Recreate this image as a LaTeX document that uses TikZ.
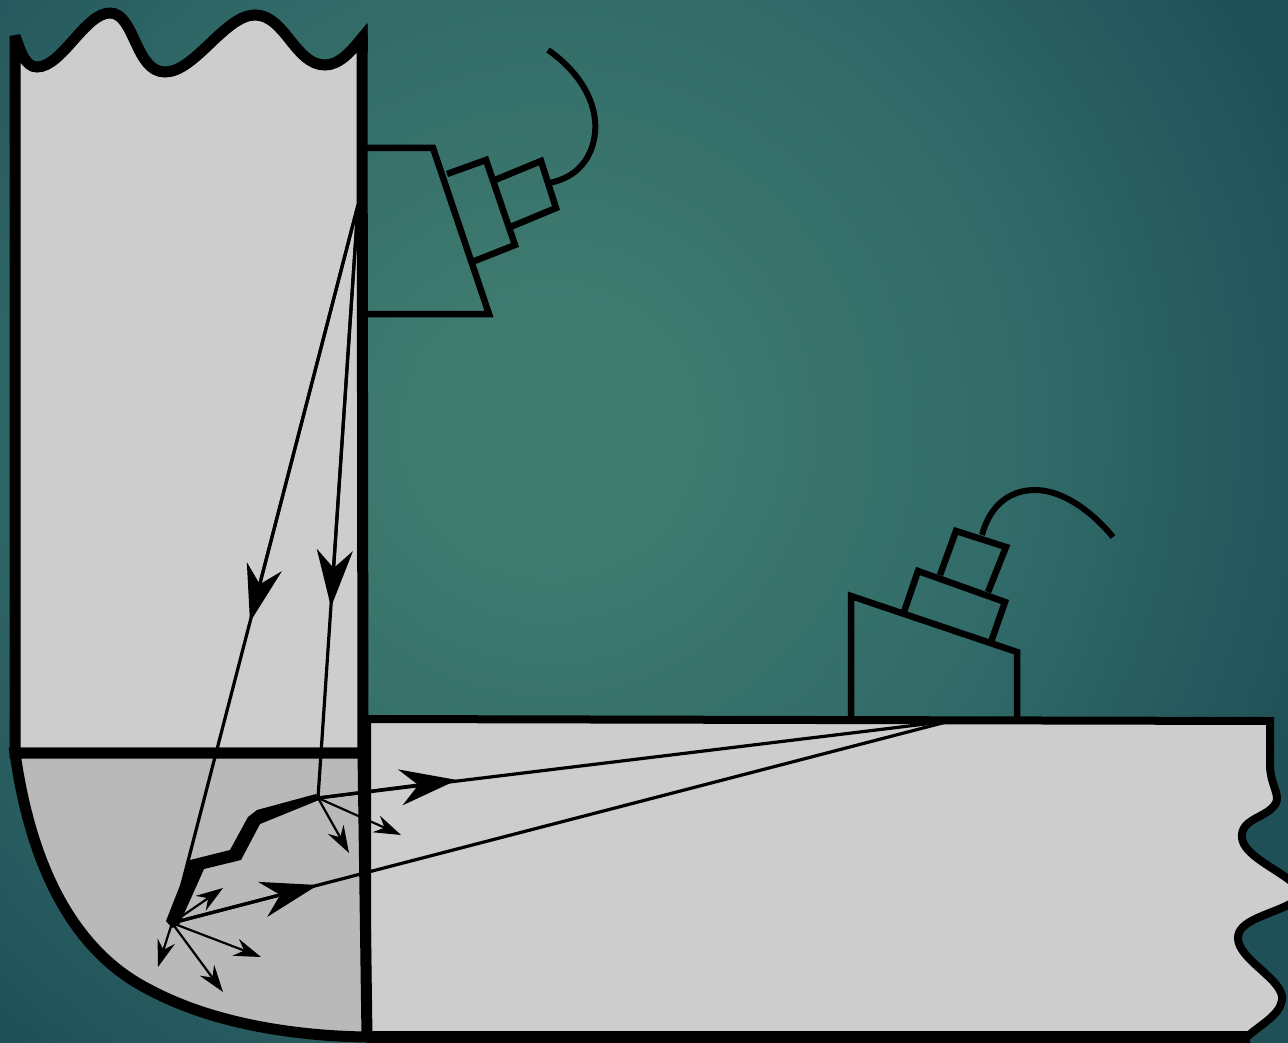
\documentclass[tikz,border=0pt]{standalone}
\usetikzlibrary{arrows.meta}
\definecolor{bgmid}{HTML}{3F7B6F}
\definecolor{bgmid2}{HTML}{316A68}
\definecolor{bgedge}{HTML}{1F4F57}
\definecolor{metal}{HTML}{CDCDCD}
\definecolor{weld}{HTML}{B9B9B9}
% the circle of radius 1000 corresponds to 25bp of the shading
\pgfdeclareradialshading{bgshade}{\pgfpoint{0bp}{0bp}}{color(0bp)=(bgmid); color(3bp)=(bgmid); color(12bp)=(bgmid2); color(20.5bp)=(bgedge); color(50bp)=(bgedge)}
\tikzset{
  wall/.style={draw=black,line width=11pt,miter limit=3},
  probe/.style={draw=black,line width=6.5pt,line join=miter},
  cable/.style={draw=black,line width=6pt},
  beam/.style={draw=black,line width=3.2pt},
  bighead/.style={-{Stealth[length=57pt,width=36pt,inset=18pt,sharp]}},
  scatter/.style={draw=black,line width=2.2pt,-{Stealth[length=27pt,width=18pt,inset=9pt,sharp]}},
}
\begin{document}
\begin{tikzpicture}[x=1pt,y=-1pt]
\path[use as bounding box] (0,0) rectangle (1288,1043);
\begin{scope}
\clip (0,0) rectangle (1288,1043);
\shade[shading=bgshade] (550,430) circle [radius=1000pt];
% right plate
\path[fill=metal,wall,line width=8pt] (367,719) -- (1270,721) -- (1270,767)
  .. controls (1271,785) and (1280,795) .. (1276,803)
  .. controls (1268,818) and (1240,818) .. (1242,838)
  .. controls (1244,855) and (1275,868) .. (1292,882)
  -- (1292,903)
  .. controls (1270,915) and (1238,920) .. (1238,938)
  .. controls (1238,960) and (1285,980) .. (1282,1000)
  .. controls (1280,1015) and (1260,1025) .. (1248,1036)
  -- (367,1036) -- cycle;
\draw[black,line width=12pt] (367,1037) -- (1250,1037);
% left pipe
\path[fill=metal,wall] (15,36) .. controls (20,50) and (25,67) .. (37,67)
  .. controls (62,67) and (85,13) .. (110,13)
  .. controls (135,13) and (135,72) .. (165,72)
  .. controls (195,72) and (225,15) .. (255,15)
  .. controls (285,15) and (295,65) .. (325,65)
  .. controls (340,65) and (352,50) .. (362,38)
  -- (363,753) -- (15,753) -- cycle;
\fill[black] (355,42) -- (367.5,24) -- (368,52) -- (358,52) -- cycle;
% bend (weld region)
\path[fill=weld,wall] (15,753) .. controls (30,860) and (70,950) .. (150,990)
  .. controls (210,1022) and (290,1036) .. (367,1037) -- (363,753) -- cycle;
\end{scope}
% named points
\coordinate (srcA) at (358,205);
\coordinate (srcB) at (950,721);
\coordinate (tipL) at (172,923);
\coordinate (tipR) at (318,798);
\coordinate (hA) at (250,622);
\coordinate (hB) at (331,607);
\coordinate (hC) at (457,780);
\coordinate (hD) at (318,885);
\coordinate (s1) at (158,967);
\coordinate (s2) at (223,992);
\coordinate (s3) at (261,957);
\coordinate (s4) at (223,888);
\coordinate (s5) at (349,853);
\coordinate (s6) at (401,835);
% top probe
\draw[probe] (367,148) -- (433,148) -- (489,314) -- (367,314);
\draw[probe] (447,174) -- (486,160) -- (515,245) -- (472,262);
\draw[probe] (495,180) -- (541,161) -- (556,208) -- (508,228);
\draw[cable] (549,183) .. controls (590,175) and (597,140) .. (595,120)
  .. controls (592,90) and (570,65) .. (548,50);
% right probe
\draw[probe] (851,719) -- (851,596) -- (1017,652) -- (1017,719);
\draw[probe] (904,612) -- (918,571) -- (1005,602) -- (991,642);
\draw[probe] (940,575) -- (956,531) -- (1006,547) -- (988,592);
\draw[cable] (982,535) .. controls (990,505) and (1010,490) .. (1035,490)
  .. controls (1065,490) and (1095,515) .. (1113,537);
% crack
\fill[black] (172,928) -- (166,921) -- (190,860) -- (230,850) -- (248,817) -- (257,810)
  -- (316,794) -- (319,800) -- (260,824) -- (241,860) -- (204,869) -- (179,925) -- cycle;
% beams
\draw[beam] (srcA) -- (tipL);
\draw[beam] (srcA) -- (tipR);
\draw[beam] (srcB) -- (tipR);
\draw[beam] (srcB) -- (tipL);
% large heads
\draw[beam,bighead] (srcA) -- (hA);
\draw[beam,bighead] (srcA) -- (hB);
\draw[beam,bighead] (tipR) -- (hC);
\draw[beam,bighead] (tipL) -- (hD);
% scattered
\foreach \e in {s1,s2,s3,s4} \draw[scatter] (tipL) -- (\e);
\foreach \e in {s5,s6} \draw[scatter] (tipR) -- (\e);
\end{tikzpicture}
\end{document}
